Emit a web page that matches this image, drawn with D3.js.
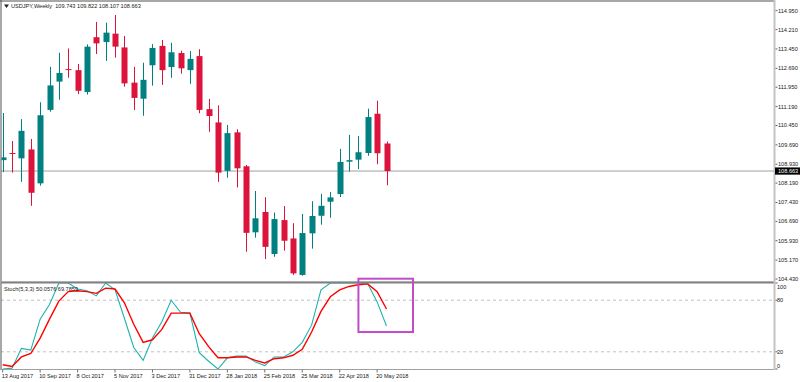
<!DOCTYPE html>
<html><head><meta charset="utf-8">
<script src="https://cdn.jsdelivr.net/npm/d3@7"></script>
<style>html,body{margin:0;padding:0;background:#fff;}svg{display:block;}text{font-family:"Liberation Sans",Arial,sans-serif;}</style>
</head><body>
<svg id="c" width="800" height="382"></svg>
<script>
const dates = ["2017-08-13","2017-08-20","2017-08-27","2017-09-03","2017-09-10","2017-09-17","2017-09-24","2017-10-01","2017-10-08","2017-10-15","2017-10-22","2017-10-29","2017-11-05","2017-11-12","2017-11-19","2017-11-26","2017-12-03","2017-12-10","2017-12-17","2017-12-24","2017-12-31","2018-01-07","2018-01-14","2018-01-21","2018-01-28","2018-02-04","2018-02-11","2018-02-18","2018-02-25","2018-03-04","2018-03-11","2018-03-18","2018-03-25","2018-04-01","2018-04-08","2018-04-15","2018-04-22","2018-04-29","2018-05-06","2018-05-13","2018-05-20","2018-05-27"];
const open  = [109.09,109.37,109.16,109.51,108.18,111.06,112.17,112.66,112.62,111.76,113.91,113.72,114.05,113.51,112.13,111.50,112.81,113.57,112.74,113.29,112.62,113.17,111.09,110.57,108.67,110.18,108.85,106.26,107.06,105.41,106.74,106.02,104.59,106.22,106.91,107.46,107.76,109.03,109.11,109.37,110.91,109.743];
const high  = [110.94,109.84,110.70,109.92,111.36,112.75,113.30,113.47,112.86,113.63,114.51,114.48,114.78,113.96,112.75,112.91,113.64,113.80,113.69,113.38,113.37,113.44,111.49,111.24,110.47,110.30,108.90,107.88,107.64,107.04,107.29,106.62,106.98,107.48,107.77,107.84,109.53,110.08,110.04,111.11,111.42,109.822];
const low   = [108.62,108.60,108.24,107.30,108.09,110.99,111.46,112.32,111.68,111.66,113.25,112.98,113.11,111.97,111.06,110.83,112.01,112.04,112.32,112.48,112.08,110.93,110.20,108.24,108.40,108.02,105.50,106.05,105.21,105.30,105.54,104.59,104.56,105.62,106.56,106.83,107.64,108.64,108.74,109.26,108.93,108.107];
const close = [109.20,109.35,110.24,107.81,110.85,112.02,112.51,112.63,111.81,113.54,113.67,114.09,113.54,112.10,111.53,112.24,113.49,112.62,113.32,112.69,113.06,111.06,110.82,108.60,110.15,108.77,106.24,106.81,105.69,106.78,105.93,104.65,106.23,106.90,107.30,107.63,109.02,109.09,109.40,110.78,109.36,108.663];
const stochK = [0,1,24,22,58,75,100,100,93,91,85,100,92,59,25,10,36,55,80,66,65,19,9,0,13,15,15,8,4,14,14,20,31,51,92,100,100,100,100,99,78,50.0576];
const stochD = [5,3,14,18,36,58,79,90,91,90,88,94,93,77,52,31,34,46,65,65,65,41,26,13,13,14,14,10,7,12,13,16,23,43,67,84,92,96,98,99,90,69.7859];
const priceTicks = [114.950,114.210,113.450,112.690,111.950,111.190,110.450,109.690,108.930,108.190,107.430,106.690,105.930,105.170,104.430];
const stochTicks = [100,80,20,0];
const stochLevels = [80,20];
const xTickLabels = ["13 Aug 2017","10 Sep 2017","8 Oct 2017","5 Nov 2017","3 Dec 2017","31 Dec 2017","28 Jan 2018","25 Feb 2018","25 Mar 2018","22 Apr 2018","20 May 2018"];
const xTickDates = ["2017-08-13","2017-09-10","2017-10-08","2017-11-05","2017-12-03","2017-12-31","2018-01-28","2018-02-25","2018-03-25","2018-04-22","2018-05-20"];
const title = "USDJPY,Weekly  109.743 109.822 108.107 108.663";
const stochTitle = "Stoch(5,3,3) 50.0576 69.7859";
const lastPrice = 108.663;

const svg = d3.select("#c");
const FS = 5.6;
const axisX = 774;

const x = d3.scalePoint().domain(dates).range([2.7, 386.5]);
const y = d3.scaleLinear().domain([104.43, 114.95]).range([279.0, 10.7]);
const ys = d3.scaleLinear().domain([0, 100]).range([369, 283]);

svg.append("defs").append("clipPath").attr("id","mainclip")
  .append("rect").attr("x",1.5).attr("y",1.5).attr("width",axisX-1.5).attr("height",280);
svg.append("defs").append("clipPath").attr("id","stclip")
  .append("rect").attr("x",1.5).attr("y",282).attr("width",axisX-1.5).attr("height",88);

// current price line
svg.append("line").attr("x1",1).attr("x2",axisX).attr("y1",y(lastPrice)).attr("y2",y(lastPrice))
  .attr("stroke","#a0a0a0").attr("stroke-width",1);

// candles
const data = dates.map((d,i)=>({d,o:open[i],h:high[i],l:low[i],c:close[i]}));
const gC = svg.append("g").attr("clip-path","url(#mainclip)");
const bw = 6;
data.forEach(b=>{
  const col = b.c >= b.o ? "#008080" : "#DC143C";
  const cx = Math.round(x(b.d)) + 0.5;
  gC.append("line").attr("x1",cx).attr("x2",cx).attr("y1",y(b.h)).attr("y2",y(b.l)).attr("stroke",col).attr("stroke-width",1);
  const top = y(Math.max(b.o,b.c)), bot = y(Math.min(b.o,b.c));
  gC.append("rect").attr("x",cx-bw/2).attr("y",top).attr("width",bw).attr("height",Math.max(1,bot-top)).attr("fill",col);
});

// stoch levels
svg.selectAll(".lvl").data(stochLevels).enter().append("line")
  .attr("x1",1).attr("x2",axisX).attr("y1",d=>ys(d)).attr("y2",d=>ys(d))
  .attr("stroke","#c0c0c0").attr("stroke-width",1).attr("stroke-dasharray","3,3");

const gS = svg.append("g").attr("clip-path","url(#stclip)");
gS.append("path").datum(stochK).attr("fill","none").attr("stroke","#20B2AA").attr("stroke-width",1.1)
  .attr("d", d3.line().x((v,i)=>x(dates[i])).y(v=>ys(v)));
gS.append("path").datum(stochD).attr("fill","none").attr("stroke","#FF0000").attr("stroke-width",1.4)
  .attr("d", d3.line().x((v,i)=>x(dates[i])).y(v=>ys(v)));

// frame
svg.append("line").attr("x1",0).attr("x2",axisX).attr("y1",1).attr("y2",1).attr("stroke","#505050").attr("stroke-width",1);
svg.append("line").attr("x1",1).attr("x2",1).attr("y1",0).attr("y2",370).attr("stroke","#505050").attr("stroke-width",1);
svg.append("line").attr("x1",1).attr("x2",axisX).attr("y1",281.5).attr("y2",281.5).attr("stroke","#b0b0b0").attr("stroke-width",1);
svg.append("line").attr("x1",1).attr("x2",axisX).attr("y1",282.8).attr("y2",282.8).attr("stroke","#808080").attr("stroke-width",1.4);
svg.append("line").attr("x1",1).attr("x2",axisX).attr("y1",369.5).attr("y2",369.5).attr("stroke","#a0a0a0").attr("stroke-width",1);
svg.append("line").attr("x1",axisX+0.5).attr("x2",axisX+0.5).attr("y1",0).attr("y2",370).attr("stroke","#c4c4c4").attr("stroke-width",2);

// price axis
const gP = svg.append("g");
priceTicks.forEach(v=>{
  gP.append("line").attr("x1",axisX+1.5).attr("x2",axisX+3.5).attr("y1",y(v)).attr("y2",y(v)).attr("stroke","#606060");
  gP.append("text").attr("x",778).attr("y",y(v)).attr("dy","0.35em").attr("font-size",FS).attr("fill","#202020").text(v.toFixed(3));
});
gP.append("rect").attr("x",axisX+1).attr("y",y(lastPrice)-3.6).attr("width",800-axisX-1).attr("height",7.2).attr("fill","#000");
gP.append("text").attr("x",778).attr("y",y(lastPrice)).attr("dy","0.35em").attr("font-size",FS).attr("fill","#fff").text(lastPrice.toFixed(3));

// stoch axis
stochTicks.forEach(v=>{
  const yy = Math.min(366, Math.max(287, ys(v)));
  svg.append("line").attr("x1",axisX+1.5).attr("x2",axisX+3.5).attr("y1",ys(v)).attr("y2",ys(v)).attr("stroke","#606060");
  svg.append("text").attr("x",777).attr("y",yy).attr("dy","0.35em").attr("font-size",FS).attr("fill","#202020").text(v);
});

// x axis
xTickDates.forEach((d,i)=>{
  const xx = x(d);
  svg.append("line").attr("x1",xx).attr("x2",xx).attr("y1",369.5).attr("y2",372.5).attr("stroke","#707070");
  svg.append("text").attr("x",xx-1).attr("y",377.5).attr("font-size",FS).attr("fill","#202020").text(xTickLabels[i]);
});

// titles
svg.append("path").attr("d","M4,4.5 L9,4.5 L6.5,8 Z").attr("fill","#202020");
svg.append("text").attr("x",11).attr("y",8.3).attr("font-size",FS).attr("fill","#202020").attr("xml:space","preserve").style("white-space","pre").text(title);
svg.append("text").attr("x",4).attr("y",291.3).attr("font-size",FS).attr("fill","#202020").text(stochTitle);

// annotation box
const boxL = x(dates[38]), boxR = x(dates[41]) + 26.5;
svg.append("rect").attr("x",boxL).attr("y",ys(105)).attr("width",boxR-boxL).attr("height",ys(43)-ys(105))
  .attr("fill","none").attr("stroke","#C04CC8").attr("stroke-width",2);
</script>
</body></html>
